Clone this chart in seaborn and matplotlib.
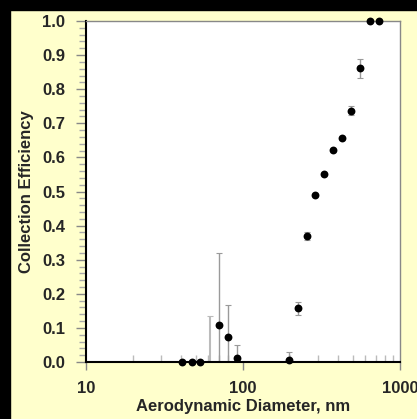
import matplotlib
matplotlib.use("Agg")
import matplotlib.pyplot as plt
import matplotlib.ticker as mticker
import seaborn as sns
import numpy as np
import pandas as pd

# ---- data ----
diameter = [41.0, 47.1, 53.5, 70.0, 80.2, 91.6, 197, 224, 254.6, 288.9,
            329, 375.8, 429, 489.8, 558.6, 641, 734]
efficiency = [0.0, 0.0, 0.0, 0.108, 0.0745, 0.011, 0.006, 0.157, 0.369, 0.491,
              0.5525, 0.622, 0.657, 0.737, 0.861, 1.0, 1.0]
err_upper = [0.0, 0.0, 0.0, 0.213, 0.092, 0.040, 0.022, 0.019, 0.013, 0.0,
             0.0, 0.0, 0.0, 0.015, 0.029, 0.0, 0.0]
err_lower = [0.0, 0.0, 0.0, 0.108, 0.0745, 0.011, 0.006, 0.018, 0.012, 0.0,
             0.0, 0.0, 0.0, 0.014, 0.027, 0.0, 0.0]
# lone error bar without visible marker
extra_d = [61.4]
extra_eff = [0.0]
extra_up = [0.134]

x_ticks = [10, 100, 1000]
x_ticklabels = ["10", "100", "1000"]
y_ticks = [0.0, 0.1, 0.2, 0.3, 0.4, 0.5, 0.6, 0.7, 0.8, 0.9, 1.0]
xlabel = "Aerodynamic Diameter, nm"
ylabel = "Collection Efficiency"

sns.set_style("white")
plt.rcParams['font.family'] = ['Liberation Sans Narrow', 'Liberation Sans', 'DejaVu Sans']

bg = "#ffffcc"
fig = plt.figure(figsize=(4.17, 4.19), dpi=100, facecolor=bg)
# black frame strips on left and top
W, H = 417, 419
fig.patches.append(plt.Rectangle((0, 0), 10 / W, 1, transform=fig.transFigure,
                                 color="black", zorder=0))
fig.patches.append(plt.Rectangle((0, 1 - 10 / H), 1, 10 / H, transform=fig.transFigure,
                                 color="black", zorder=0))

ax = fig.add_axes([86 / W, 1 - 362 / H, (400 - 86) / W, (362 - 21) / H])
ax.set_facecolor("white")

df = pd.DataFrame({"d": diameter, "eff": efficiency})

ax.errorbar(diameter, efficiency, yerr=[err_lower, err_upper], fmt="none",
            ecolor="#9a9a9a", elinewidth=1.0, capsize=2, capthick=0.8, zorder=2)
ax.errorbar(extra_d, extra_eff, yerr=[[0.0], extra_up], fmt="none",
            ecolor="#bbbbbb", elinewidth=1.5, capsize=2, capthick=0.8, zorder=2)
sns.scatterplot(data=df, x="d", y="eff", ax=ax, color="black", s=32,
                edgecolor="black", linewidth=0, zorder=5, clip_on=False)

ax.set_xscale("log")
ax.set_xlim(10, 1000)
ax.set_ylim(0, 1.0)
ax.set_xticks(x_ticks)
ax.set_xticklabels(x_ticklabels)
ax.set_yticks(y_ticks)
ax.set_yticklabels([f"{v:.1f}" for v in y_ticks])
ax.yaxis.set_minor_locator(mticker.MultipleLocator(0.02))
ax.xaxis.set_minor_locator(mticker.LogLocator(base=10, subs=np.arange(2, 10)))
ax.xaxis.set_minor_formatter(mticker.NullFormatter())

for s in ["left", "bottom"]:
    ax.spines[s].set_color("black")
    ax.spines[s].set_linewidth(1.5)
for s in ["top", "right"]:
    ax.spines[s].set_color("#888888")
    ax.spines[s].set_linewidth(1.0)

ax.tick_params(axis="y", which="major", direction="out", length=7, width=1,
               color="#888888", labelsize=12, pad=8, left=True)
ax.tick_params(axis="y", which="minor", direction="out", length=5, width=1,
               color="#aaaaaa", left=True)
ax.tick_params(axis="x", which="major", direction="out", length=6, width=1,
               color="#888888", labelsize=12, pad=8, bottom=True)
ax.tick_params(axis="x", which="minor", direction="in", length=5, width=1,
               color="#bbbbbb", bottom=True)

for lab in ax.get_xticklabels() + ax.get_yticklabels():
    lab.set_fontweight("bold")

ax.set_xlabel(xlabel, fontsize=12, fontweight="bold", labelpad=2)
ax.set_ylabel(ylabel, fontsize=12, fontweight="bold", labelpad=6)

fig.savefig("out.png", dpi=100, facecolor=bg)
